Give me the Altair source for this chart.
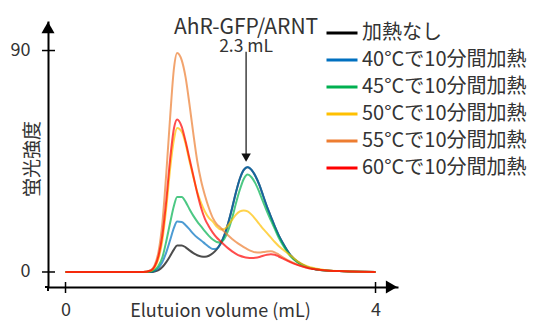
import altair as alt
import pandas as pd

# ---- data ----
volume = [0, 0.5, 1.0, 1.1, 1.15, 1.2, 1.25, 1.3, 1.35, 1.4, 1.44,
          1.5, 1.55, 1.6, 1.65, 1.7, 1.75, 1.8, 1.85, 1.9, 1.95,
          2.0, 2.05, 2.1, 2.15, 2.2, 2.25, 2.3, 2.35, 2.4, 2.45,
          2.5, 2.55, 2.6, 2.65, 2.7, 2.75, 2.8, 2.9, 3.0, 3.1, 3.2,
          3.4, 3.6, 3.8, 4.0]

no_heat = [0, 0, 0, 0, 0.2, 0.8, 2, 4, 6.5, 9.2, 10.8,
           10.8, 10, 8.8, 7.7, 6.8, 6.3, 6.2, 6.6, 7.6, 9.2,
           11.5, 15, 20, 26, 32.5, 38, 41.5, 42.6, 41.5, 39,
           35.5, 31, 26.5, 22.5, 18.5, 15, 12, 7, 4, 2.3, 1.3,
           0.5, 0.3, 0.1, 0]
heat40 = [0, 0, 0, 0.1, 0.5, 1.6, 4, 8, 13, 18, 20.5,
          20.3, 19, 17.3, 15.5, 14, 12.8, 11.5, 10.2, 9.3, 9.5,
          11.5, 15, 20, 26, 32.5, 38, 41.5, 42.7, 41.5, 39,
          35.5, 31, 26.5, 22.5, 18.5, 15, 12, 7, 4, 2.3, 1.3,
          0.5, 0.3, 0.1, 0]
heat45 = [0, 0, 0, 0.2, 0.8, 2.5, 6, 12.5, 20, 27, 30.5,
          30.5, 28.5, 25.5, 22.8, 20.5, 18.5, 16.5, 14.7, 13.2, 12.2,
          12, 13.5, 17, 22, 28, 33.5, 37.8, 39.6, 38.5, 36,
          32.5, 28.5, 24.5, 21, 17.5, 14, 11.2, 6.5, 3.8, 2.2, 1.3,
          0.5, 0.3, 0.1, 0]
heat50 = [0, 0, 0, 0.4, 1.8, 5.5, 13, 26, 42, 54, 58.5,
          57, 52, 45, 38.5, 32.5, 28, 24.5, 22, 20.5, 18.5,
          17.3, 17.5, 19, 21.2, 23.3, 24.6, 25, 24.6, 23.3, 21.5,
          19.5, 17.5, 15.8, 14, 12.2, 10.6, 9.2, 6.8, 4.2, 2.6, 1.6,
          0.6, 0.3, 0.1, 0]
heat55 = [0, 0, 0, 0.8, 2.8, 8.3, 20, 40, 63, 83, 89,
          86, 79, 68, 56, 45, 37, 31, 26, 22, 19.5,
          18, 16.3, 14.8, 13.4, 12.2, 11.1, 10.1, 9.2, 8.5, 8,
          7.9, 8.1, 8.3, 8.4, 8, 7.1, 6.1, 4.3, 2.9, 1.9, 1.2,
          0.5, 0.3, 0.1, 0]
heat60 = [0, 0, 0, 0.6, 2.2, 6.5, 15, 29, 46, 58.5, 62,
          59, 53, 46, 39, 32, 26, 21.5, 18.5, 16, 14,
          12.5, 11, 9.6, 8.4, 7.4, 6.6, 6.1, 5.8, 5.7, 5.8,
          6.1, 6.6, 7, 7.2, 7, 6.3, 5.5, 4, 2.8, 1.8, 1.2,
          0.5, 0.3, 0.1, 0]

series_names = ["加熱なし", "40°Cで10分間加熱", "45°Cで10分間加熱",
                "50°Cで10分間加熱", "55°Cで10分間加熱", "60°Cで10分間加熱"]
series_colors = ["#000000", "#0070C0", "#00B050", "#FFC000", "#ED7D31", "#FF0000"]
series_values = [no_heat, heat40, heat45, heat50, heat55, heat60]

x_ticks = [0, 4]
y_ticks = [0, 90]
x_title = "Elutuion volume (mL)"
y_title = ["蛍光強度"]

peak_name = ["AhR-GFP/ARNT"]
peak_volume_label = ["2.3 mL"]
peak_x = [2.33]
arrow_top = [89.5]
arrow_tip = [46.5]
name_y = [99.2]
volume_label_y = [91.6]

FONT = "Noto Sans CJK JP"
TXT = "#333333"

rows = []
for k, (name, vals) in enumerate(zip(series_names, series_values)):
    for xv, yv in zip(volume, vals):
        rows.append({"volume": xv, "signal": yv, "series": name, "k": k})
df = pd.DataFrame(rows)

W, H = 350, 266
xs = alt.Scale(domain=[-0.226, 4.29], nice=False, zero=False)
ys = alt.Scale(domain=[-6.1, 102], nice=False, zero=False)

lines = alt.Chart(df).mark_line(interpolate="monotone", strokeWidth=2, opacity=0.7).encode(
    x=alt.X("volume:Q", scale=xs,
            axis=alt.Axis(values=x_ticks, format="d", title=x_title, grid=False, ticks=False,
                          domainColor="black", domainWidth=2,
                          labelFontSize=18, labelColor=TXT, labelPadding=14,
                          titleFontSize=18, titleColor=TXT, titleFontWeight="normal",
                          titleX=172, titleY=15, titleBaseline="top")),
    y=alt.Y("signal:Q", scale=ys,
            axis=alt.Axis(values=y_ticks, title=None, grid=False, ticks=False,
                          domainColor="black", domainWidth=2,
                          labelFontSize=18, labelColor=TXT, labelPadding=18)),
    color=alt.Color("series:N",
                    scale=alt.Scale(domain=series_names, range=series_colors),
                    legend=alt.Legend(title=None, orient="none", legendX=277, legendY=0,
                                      symbolType="stroke", symbolSize=961,
                                      symbolStrokeWidth=3, symbolOpacity=1,
                                      labelFontSize=20, labelColor=TXT, labelLimit=400,
                                      labelOffset=3, rowPadding=3, clipHeight=24)),
    detail="k:N",
)

ytitle_df = pd.DataFrame({"t": y_title})
ytitle = alt.Chart(ytitle_df).mark_text(angle=270, fontSize=19, color=TXT,
                                        align="center", baseline="middle").encode(
    x=alt.value(-15), y=alt.value(138), text="t:N")

ytick_df = pd.DataFrame({"v": y_ticks})
yticks = alt.Chart(ytick_df).mark_rule(color="black", strokeWidth=1.5).encode(
    y=alt.Y("v:Q", scale=ys), x=alt.value(-6), x2=alt.value(7))

xtick_df = pd.DataFrame({"v": x_ticks})
xticks = alt.Chart(xtick_df).mark_rule(color="black", strokeWidth=1.5).encode(
    x=alt.X("v:Q", scale=xs), y=alt.value(H - 5), y2=alt.value(H + 6))

one = pd.DataFrame({"a": [0]})
yext = alt.Chart(one).mark_rule(color="black", strokeWidth=2).encode(
    x=alt.value(0), y=alt.value(H), y2=alt.value(H + 4))
xext = alt.Chart(one).mark_rule(color="black", strokeWidth=2).encode(
    x=alt.value(-3), x2=alt.value(0), y=alt.value(H))
yarrow = alt.Chart(one).mark_point(shape="triangle-up", filled=True, size=169,
                                   color="black", opacity=1).encode(
    x=alt.value(0), y=alt.value(6.5))
xarrow = alt.Chart(one).mark_point(shape="triangle-right", filled=True, size=169,
                                   color="black", opacity=1).encode(
    x=alt.value(W - 6.5), y=alt.value(H))

ann_df = pd.DataFrame({"x": peak_x, "top": arrow_top, "tip": arrow_tip,
                       "ny": name_y, "vy": volume_label_y,
                       "name": peak_name, "vol": peak_volume_label})
arrow_line = alt.Chart(ann_df).mark_rule(color="#222222", strokeWidth=1.3).encode(
    x=alt.X("x:Q", scale=xs), y=alt.Y("top:Q", scale=ys), y2="tip:Q")
arrow_head = alt.Chart(ann_df).mark_point(shape="triangle-down", filled=True, size=90,
                                          color="#111111", opacity=1).encode(
    x=alt.X("x:Q", scale=xs), y=alt.Y("tip:Q", scale=ys))
name_text = alt.Chart(ann_df).mark_text(fontSize=21, color=TXT,
                                        align="center", baseline="middle").encode(
    x=alt.X("x:Q", scale=xs), y=alt.Y("ny:Q", scale=ys), text="name:N")
vol_text = alt.Chart(ann_df).mark_text(fontSize=17.5, color=TXT,
                                       align="center", baseline="middle").encode(
    x=alt.X("x:Q", scale=xs), y=alt.Y("vy:Q", scale=ys), text="vol:N")

chart = alt.layer(lines, ytitle, yticks, xticks, yext, xext, yarrow, xarrow,
                  arrow_line, arrow_head, name_text, vol_text).properties(
    width=W, height=H,
    autosize=alt.AutoSizeParams(type="none"),
    padding={"left": 40, "top": 13, "right": 129, "bottom": 36},
).configure(font=FONT).configure_view(strokeWidth=0)

chart.save("out.html", embed_options={"renderer": "svg", "actions": False})
